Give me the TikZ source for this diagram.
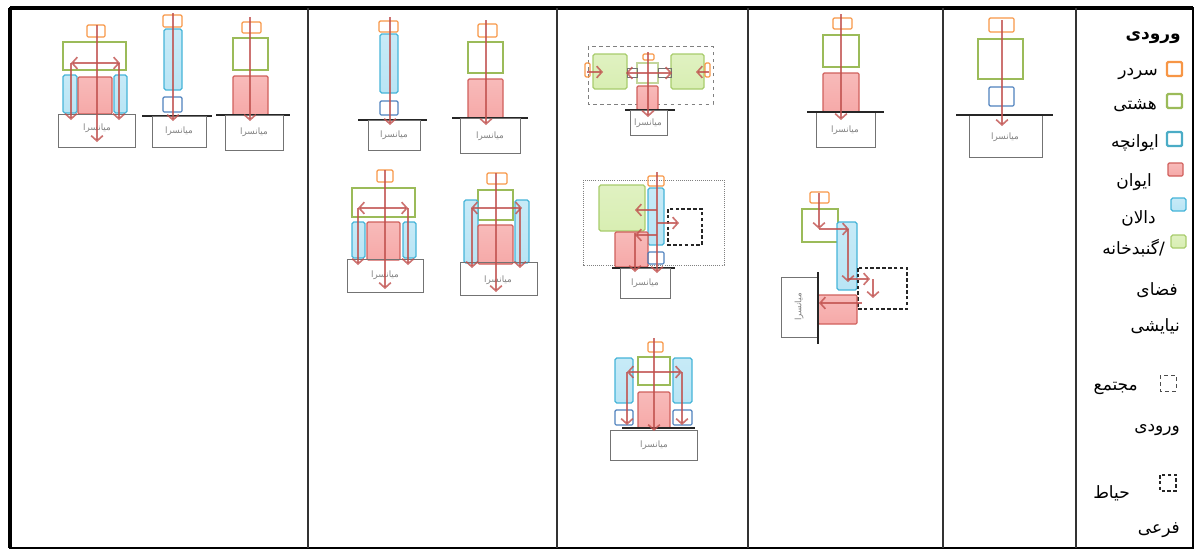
\documentclass[tikz,border=0pt]{standalone}
\usepackage{fontspec}
\newfontfamily\farsi[Script=Arabic]{DejaVu Sans}
\TeXXeTstate=1
\usetikzlibrary{arrows.meta}

\definecolor{orangeC}{HTML}{F79646}
\definecolor{greenC}{HTML}{9BBB59}
\definecolor{blueC}{HTML}{4F81BD}
\definecolor{tealC}{HTML}{4BACC6}
\definecolor{redC}{HTML}{D0605C}
\definecolor{redFill}{HTML}{F6A9A8}
\definecolor{skyC}{HTML}{45B4D8}
\definecolor{skyFill}{HTML}{B9E5F5}
\definecolor{limeC}{HTML}{A8CC6C}
\definecolor{limeFill}{HTML}{D8EEB2}
\definecolor{arrowC}{HTML}{C0504D}

\tikzset{
  sardar/.style={draw=orangeC, line width=1pt, rounded corners=1pt},
  hashti/.style={draw=greenC, line width=1pt},
  ivancheh/.style={draw=blueC, line width=1pt, rounded corners=1pt},
  ivan/.style={draw=redC, line width=1pt, rounded corners=1pt, top color=redFill!80, bottom color=redFill},
  dalan/.style={draw=skyC, line width=1pt, rounded corners=1.5pt, top color=skyFill!80, bottom color=skyFill},
  gonbad/.style={draw=limeC, line width=1pt, rounded corners=1.5pt, top color=limeFill!80, bottom color=limeFill},
  mian/.style={draw=black!55, line width=.8pt},
  ground/.style={draw=black!85, line width=1pt},
  majma/.style={draw=black!50, dashed, line width=.8pt},
  hayat/.style={draw=black!85, densely dashed, line width=1.2pt},
  flow/.style={draw=arrowC, draw opacity=.8, line width=1.4pt, -{Straight Barb[length=4.5pt,width=10pt]}},
  flowboth/.style={flow, {Straight Barb[length=4.5pt,width=10pt]}-{Straight Barb[length=4.5pt,width=10pt]}},
  mtext/.style={font=\farsi\fontsize{7.5}{8}\selectfont, text=black!50},
  leg/.style={font=\farsi\fontsize{14.5}{16}\selectfont, anchor=east, inner sep=0pt},
}

\begin{document}
\begin{tikzpicture}[x=0.03cm, y=-0.03cm]
\useasboundingbox (0,0) rectangle (1195,552);
% table
\draw[line width=2.4pt] (10,8) rectangle (1193,548);
\draw[line width=3pt] (10,8) -- (1193,8);
\draw[line width=3pt] (10,8) -- (10,548);
\foreach \x in {308,557,748,943,1076}
  \draw[line width=1.2pt, black!80] (\x,8) -- (\x,548);

% legend
\node[leg, font=\farsi\bfseries\fontsize{14.5}{16}\selectfont] (legHead) at (1181,38) {\beginR ورودی\endR};
\draw[sardar, line width=2pt] (1167,62) rectangle (1182,76);
\node[leg] (legSardar) at (1158,74) {\beginR سردر\endR};
\draw[hashti, line width=2pt, rounded corners=1pt] (1167,94) rectangle (1182,108);
\node[leg] (legHashti) at (1157,106) {\beginR هشتی\endR};
\draw[draw=tealC, line width=2pt, rounded corners=1pt] (1167,132) rectangle (1182,146);
\node[leg] (legIvancheh) at (1159,143) {\beginR ایوانچه\endR};
\draw[ivan] (1168,163) rectangle (1183,176);
\node[leg] (legIvan) at (1152,182) {\beginR ایوان\endR};
\draw[dalan] (1171,198) rectangle (1186,211);
\node[leg] (legDalan) at (1156,218) {\beginR دالان\endR};
\draw[gonbad] (1171,235) rectangle (1186,248);
\node[leg] (legGonbad) at (1165,248) {\beginL\beginR گنبدخانه\endR/\endL};
\node[leg] (legFaza) at (1178,290) {\beginR فضای\endR};
\node[leg] (legNiayeshi) at (1180,326) {\beginR نیایشی\endR};
\draw[majma, draw=black!70] (1160,375) rectangle (1176,391);
\node[leg] (legMajma) at (1138,388) {\beginR مجتمع\endR};
\node[leg] (legVorudi) at (1180,430) {\beginR ورودی\endR};
\draw[hayat, line width=1.9pt] (1160,475) rectangle (1176,491);
\node[leg] (legHayat) at (1130,493) {\beginR حیاط\endR};
\node[leg] (legFarei) at (1180,530) {\beginR فرعی\endR};

% column A
\draw[hashti] (978,39) rectangle (1023,79);
\draw[sardar] (989,18) rectangle (1014,32);
\draw[ivancheh] (989,87) rectangle (1014,106);
\draw[mian] (969,115) rectangle (1042,157);
\draw[ground] (956,115) -- (1053,115);
\node[mtext] (mianA) at (1005,137) {\beginR میانسرا\endR};
\draw[flow] (1002,20) -- (1002,126);

% column B
\draw[hashti] (823,35) rectangle (859,67);
\draw[sardar] (833,18) rectangle (852,29);
\draw[ivan] (823,73) rectangle (859,112);
\draw[mian] (816,112) rectangle (875,147);
\draw[ground] (807,112) -- (884,112);
\node[mtext] (mianB1) at (845,130) {\beginR میانسرا\endR};
\draw[flow] (841,14) -- (841,120);

\draw[sardar] (810,192) rectangle (829,203);
\draw[hashti] (802,209) rectangle (838,242);
\draw[dalan] (837,222) rectangle (857,290);
\draw[hayat] (858,268) rectangle (907,309);
\draw[ivan] (818,295) rectangle (857,324);
\draw[mian] (781,277) rectangle (817,337);
\draw[ground] (818,272) -- (818,344);
\node[mtext, rotate=90] (mianB2) at (799,307) {\beginR میانسرا\endR};
\draw[flow] (819,193) -- (819,229);
\draw[flow] (819,229) -- (849,229);
\draw[flow] (848,229) -- (848,282);
\draw[flow] (848,279) -- (870,279);
\draw[flow] (873,279) -- (873,298);
\draw[flow] (862,303) -- (819,303);

% column C
\draw[majma] (588,46) rectangle (713,104);
\draw[gonbad] (593,54) rectangle (627,89);
\draw[gonbad] (671,54) rectangle (704,89);
\draw[hashti, draw opacity=.6] (637,63) rectangle (658,83);
\draw[sardar] (643,54) rectangle (654,60);
\draw[black!55, line width=.8pt] (627,68) rectangle (637,77);
\draw[black!55, line width=.8pt] (658,68) rectangle (671,77);
\draw[sardar] (585,63) rectangle (590,77);
\draw[sardar] (705,63) rectangle (710,77);
\draw[ivan] (637,86) rectangle (658,110);
\draw[ground] (625,110) -- (675,110);
\draw[mian] (630,110) rectangle (667,135);
\node[mtext] (mianC1) at (648,123) {\beginR میانسرا\endR};
\draw[flow] (648,52) -- (648,117);
\draw[flowboth] (626,73) -- (672,73);
\draw[flow] (587,72) -- (603,72);
\draw[flow] (709,72) -- (696,72);

\draw[majma, densely dotted] (583,180) rectangle (724,265);
\draw[gonbad] (599,185) rectangle (645,231);
\draw[dalan] (648,188) rectangle (664,245);
\draw[sardar] (648,176) rectangle (664,186);
\draw[hayat] (668,209) rectangle (702,245);
\draw[ivan] (615,232) rectangle (648,267);
\draw[ivancheh] (648,252) rectangle (664,264);
\draw[ground] (612,268) -- (675,268);
\draw[mian] (620,268) rectangle (670,298);
\node[mtext] (mianC2) at (645,283) {\beginR میانسرا\endR};
\draw[flow] (657,172) -- (657,273);
\draw[flow] (635,233) -- (635,272);
\draw[flow] (657,210) -- (635,210);
\draw[flow] (657,235) -- (635,235);
\draw[flow] (657,223) -- (679,223);

\draw[sardar] (648,342) rectangle (663,352);
\draw[hashti] (638,357) rectangle (670,385);
\draw[dalan] (615,358) rectangle (633,403);
\draw[dalan] (673,358) rectangle (692,403);
\draw[ivan] (638,392) rectangle (670,428);
\draw[ivancheh] (615,410) rectangle (633,425);
\draw[ivancheh] (673,410) rectangle (692,425);
\draw[mian] (610,430) rectangle (697,460);
\draw[ground] (622,428) -- (695,428);
\node[mtext] (mianC3) at (654,445) {\beginR میانسرا\endR};
\draw[flow] (654,338) -- (654,431);
\draw[flowboth] (627,372) -- (682,372);
\draw[flow] (627,372) -- (627,425);
\draw[flow] (682,372) -- (682,425);

% column D
\draw[sardar] (379,21) rectangle (398,32);
\draw[dalan] (380,34) rectangle (398,93);
\draw[ivancheh] (380,101) rectangle (398,115);
\draw[ground] (358,120) -- (427,120);
\draw[mian] (368,120) rectangle (420,150);
\node[mtext] (mianD1) at (394,135) {\beginR میانسرا\endR};
\draw[flow] (390,17) -- (390,125);

\draw[sardar] (478,24) rectangle (497,37);
\draw[hashti] (468,42) rectangle (503,73);
\draw[ivan] (468,79) rectangle (503,118);
\draw[ground] (452,118) -- (528,118);
\draw[mian] (460,118) rectangle (520,153);
\node[mtext] (mianD2) at (490,136) {\beginR میانسرا\endR};
\draw[flow] (486,20) -- (486,125);

\draw[sardar] (377,170) rectangle (393,182);
\draw[hashti] (352,188) rectangle (415,217);
\draw[dalan] (352,222) rectangle (365,258);
\draw[dalan] (403,222) rectangle (416,258);
\draw[ivan] (367,222) rectangle (400,260);
\draw[mian] (347,259) rectangle (423,292);
\node[mtext] (mianD3) at (385,275) {\beginR میانسرا\endR};
\draw[flow] (385,170) -- (385,289);
\draw[flowboth] (358,208) -- (408,208);
\draw[flow] (358,208) -- (358,265);
\draw[flow] (408,208) -- (408,265);

\draw[sardar] (487,173) rectangle (507,184);
\draw[hashti] (478,190) rectangle (513,220);
\draw[dalan] (464,200) rectangle (478,263);
\draw[dalan] (515,200) rectangle (529,263);
\draw[ivan] (478,225) rectangle (513,264);
\draw[mian] (460,262) rectangle (537,295);
\node[mtext] (mianD4) at (498,280) {\beginR میانسرا\endR};
\draw[flow] (496,173) -- (496,292);
\draw[flowboth] (471,208) -- (522,208);
\draw[flow] (472,208) -- (472,268);
\draw[flow] (520,208) -- (520,268);

% column E
\draw[sardar] (87,25) rectangle (105,37);
\draw[hashti] (63,42) rectangle (126,70);
\draw[dalan] (63,75) rectangle (77,113);
\draw[dalan] (114,75) rectangle (127,113);
\draw[ivan] (78,77) rectangle (112,114);
\draw[mian] (58,114) rectangle (135,147);
\node[mtext] (mianE1) at (97,128) {\beginR میانسرا\endR};
\draw[flow] (97,25) -- (97,142);
\draw[flowboth] (71,63) -- (120,63);
\draw[flow] (71,63) -- (71,120);
\draw[flow] (119,63) -- (119,120);

\draw[sardar] (163,15) rectangle (182,27);
\draw[dalan] (164,29) rectangle (182,90);
\draw[ivancheh] (163,97) rectangle (182,112);
\draw[ground] (142,116) -- (212,116);
\draw[mian] (152,116) rectangle (206,147);
\node[mtext] (mianE2) at (179,131) {\beginR میانسرا\endR};
\draw[flow] (173,13) -- (173,121);

\draw[sardar] (242,22) rectangle (261,33);
\draw[hashti] (233,38) rectangle (268,70);
\draw[ivan] (233,76) rectangle (268,115);
\draw[ground] (216,115) -- (290,115);
\draw[mian] (225,115) rectangle (283,150);
\node[mtext] (mianE3) at (254,132) {\beginR میانسرا\endR};
\draw[flow] (250,17) -- (250,121);
\end{tikzpicture}
\end{document}
